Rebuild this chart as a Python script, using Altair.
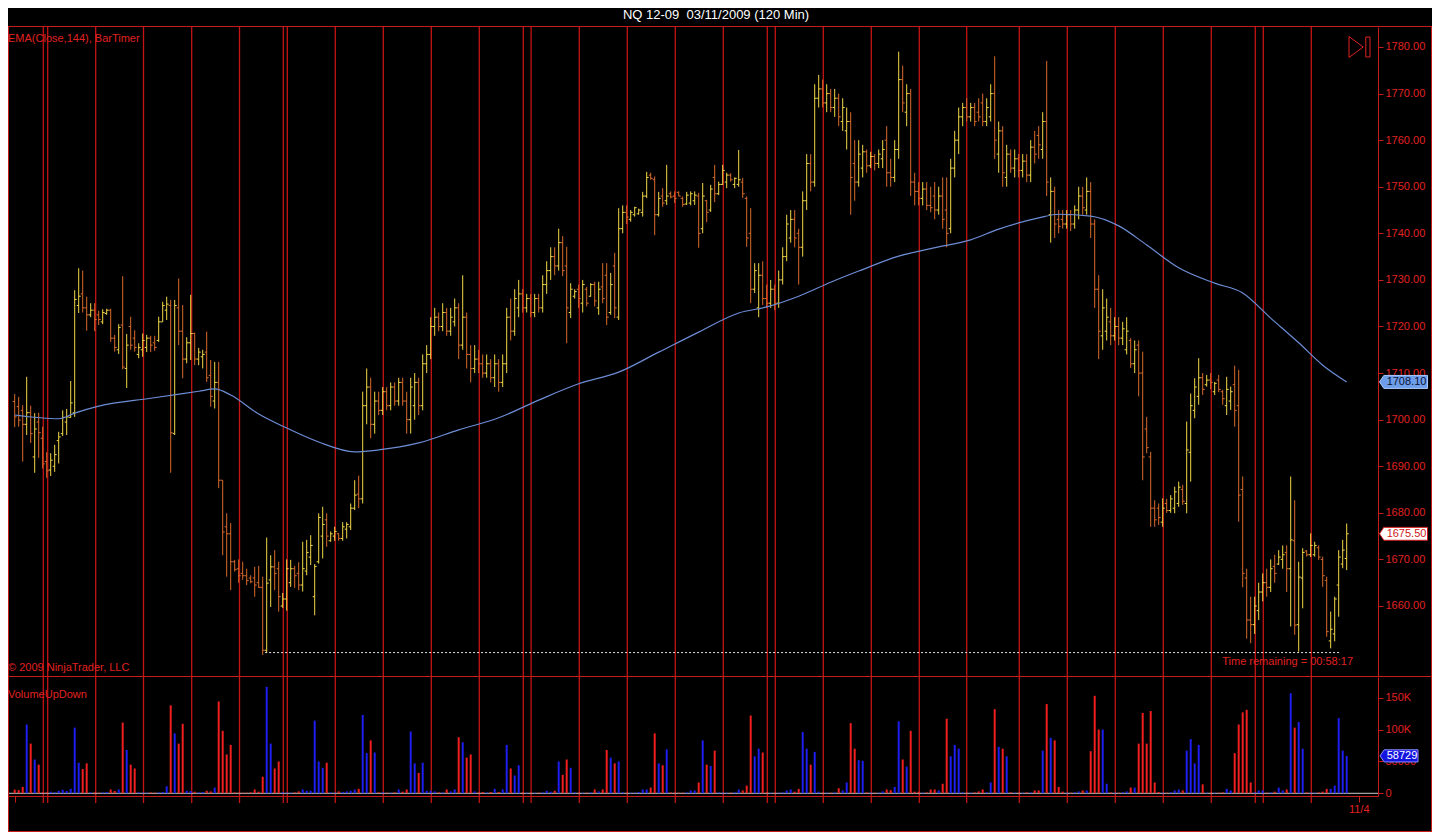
import altair as alt
import numpy as np
import pandas as pd

# ---------------- text ----------------
TITLE = "NQ 12-09\u00a0\u00a003/11/2009 (120 Min)"
INDICATOR_LABEL = "EMA(Close,144), BarTimer"
COPYRIGHT = "\u00a9 2009 NinjaTrader, LLC"
VOLUME_LABEL = "VolumeUpDown"
TIMER_TEXT = "Time remaining = 00:58:17"
DATE_LABEL = "11/4"

# ---------------- price bars (120 min), bar 0 .. 333 ----------------
OPEN = [
    1703.9, 1702.8, 1702.0, 1699.0, 1701.5, 1692.0, 1699.5, 1696.0, 1691.0, 1689.2,
    1690.0, 1695.5, 1697.0, 1699.5, 1700.5, 1701.5, 1724.5, 1727.0, 1724.0, 1722.5,
    1723.5, 1722.5, 1721.0, 1722.8, 1723.5, 1717.5, 1715.0, 1720.3, 1711.0, 1720.0,
    1717.5, 1714.0, 1715.0, 1715.5, 1717.5, 1716.5, 1717.0, 1721.0, 1723.5, 1724.5,
    1697.0, 1724.0, 1719.0, 1713.0, 1716.5, 1718.5, 1713.0, 1713.5, 1714.5, 1709.5,
    1704.0, 1708.0, 1687.0, 1677.0, 1675.5, 1669.5, 1668.0, 1667.0, 1666.5, 1666.0,
    1666.0, 1665.0, 1664.0, 1650.5, 1665.6, 1668.4, 1668.0, 1660.0, 1661.5, 1665.0,
    1668.0, 1667.0, 1664.5, 1667.5, 1670.5, 1662.0, 1669.5, 1675.0, 1678.5, 1674.0,
    1675.0, 1675.5, 1674.5, 1676.5, 1677.0, 1681.0,
    1684, 1683, 1703, 1707, 1699, 1704, 1702, 1706, 1703, 1707,
    1704, 1708, 1704, 1700, 1703, 1708, 1703, 1712, 1714, 1720,
    1722, 1720, 1723, 1719, 1721, 1724, 1716, 1722, 1714, 1711,
    1713, 1712, 1710, 1712, 1709, 1712, 1708, 1712, 1722, 1719,
    1724, 1727, 1724, 1726, 1723, 1726, 1724, 1729, 1732, 1735,
    1733, 1738, 1733, 1723, 1726.5, 1728, 1725, 1728, 1726.5, 1729,
    1724, 1728.5, 1731, 1723, 1733, 1722, 1741, 1744.5, 1743, 1744,
    1744.2, 1744.5, 1748, 1752.5, 1751.5, 1744, 1748, 1747, 1748.5, 1748,
    1748.8, 1747.5, 1746.3, 1746.5, 1747, 1748, 1741, 1747, 1745, 1752,
    1748.5, 1750.5, 1751, 1752.5, 1750.5, 1750.5, 1751, 1747.5, 1740, 1728,
    1724, 1731, 1726, 1725, 1728, 1725, 1730, 1735, 1739, 1743,
    1740, 1737, 1747, 1755, 1751, 1769, 1771, 1768, 1770, 1767,
    1769, 1764, 1762, 1764, 1755, 1751, 1754, 1757.5, 1754.5, 1756.5,
    1755, 1756, 1760, 1753, 1752, 1758, 1773, 1766, 1770, 1751,
    1749, 1747.5, 1749.5, 1746, 1748, 1745, 1748, 1745, 1741, 1754,
    1760, 1765, 1767, 1765, 1767, 1766, 1768, 1764, 1765, 1770,
    1757, 1762, 1752, 1757, 1754, 1756, 1753.5, 1755.5, 1752.5, 1758.5,
    1761, 1758, 1764, 1744, 1749, 1743, 1743, 1742, 1744, 1742,
    1745, 1748, 1745, 1749, 1742, 1728, 1718, 1719, 1721, 1718,
    1720, 1717.5, 1715, 1717, 1712, 1716, 1710, 1698, 1692, 1681,
    1681, 1678, 1682, 1680.5, 1681, 1682, 1685, 1682, 1693, 1702,
    1705, 1709, 1707.5, 1708.5, 1706, 1708.5, 1706, 1703, 1704, 1707.5,
    1703, 1685, 1666, 1657, 1656, 1659, 1663, 1665, 1664, 1668.5,
    1669, 1670, 1671.5, 1668, 1674, 1656, 1666, 1671.8, 1671, 1671,
    1672.5, 1670, 1665.5, 1652.5, 1654, 1664.5, 1669, 1670.2,
]
HIGH = [
    1705.5, 1704.9, 1703.1, 1709.2, 1703.0, 1701.4, 1701.5, 1698.5, 1693.0, 1692.8,
    1694.6, 1697.4, 1702.0, 1702.3, 1708.3, 1727.8, 1732.5, 1732.0, 1726.4, 1725.0,
    1725.0, 1723.4, 1723.7, 1723.8, 1723.8, 1718.2, 1720.5, 1730.8, 1718.4, 1722.1,
    1719.2, 1716.4, 1718.5, 1718.2, 1718.0, 1718.0, 1722.1, 1725.3, 1726.4, 1725.7,
    1725.7, 1730.3, 1724.6, 1717.7, 1726.8, 1718.7, 1715.4, 1715.0, 1718.9, 1712.8,
    1712.4, 1712.4, 1687.0, 1679.9, 1677.8, 1669.9, 1670.0, 1669.5, 1668.0, 1666.6,
    1668.4, 1668.6, 1666.3, 1674.7, 1670.9, 1672.0, 1669.5, 1662.8, 1670.0, 1669.9,
    1668.6, 1669.4, 1673.8, 1674.2, 1675.2, 1669.0, 1679.9, 1681.3, 1679.9, 1676.0,
    1677.0, 1675.6, 1678.0, 1678.0, 1682.0, 1687.0,
    1688, 1706, 1711, 1709, 1706, 1706, 1707, 1707, 1708, 1708,
    1709, 1709, 1706, 1709, 1710, 1709, 1714, 1716, 1722, 1724,
    1723, 1725, 1724, 1724, 1726, 1725, 1731, 1723, 1716, 1716,
    1715, 1714, 1714, 1713, 1714, 1713, 1714, 1724, 1726, 1728,
    1730, 1728, 1727, 1727, 1727, 1727, 1731, 1734, 1737, 1737,
    1741, 1739.4, 1737.1, 1729.3, 1728, 1729, 1730, 1728.5, 1729.3, 1729.6,
    1729.6, 1733.6, 1733.6, 1731.5, 1735.8, 1745.4, 1746, 1746, 1745, 1745.7,
    1745.3, 1748.9, 1753.2, 1753, 1752.2, 1748.9, 1749.7, 1754.7, 1749, 1749,
    1749, 1747.9, 1748.9, 1749, 1749, 1748.7, 1750.8, 1747.2, 1750.4, 1754.7,
    1751.1, 1754.7, 1753, 1752.9, 1752, 1757.9, 1751.9, 1747.9, 1745.4, 1733.6,
    1733.6, 1734, 1729, 1730, 1729, 1732, 1737, 1744, 1745, 1745,
    1741, 1749, 1757, 1757, 1772, 1774, 1773, 1772, 1771, 1771,
    1770, 1769, 1767, 1766, 1760, 1760, 1759, 1758, 1757.5, 1757,
    1758, 1760, 1763, 1756, 1760, 1779, 1776, 1772, 1771, 1753,
    1751, 1751, 1751, 1750, 1751, 1750, 1752, 1752, 1756, 1762,
    1767, 1768, 1769, 1768, 1768, 1769, 1770, 1769, 1772, 1778,
    1764, 1763, 1759, 1758, 1758, 1757, 1757, 1757, 1760, 1762,
    1763, 1766, 1777, 1752, 1750, 1745, 1745, 1745, 1745, 1746,
    1750, 1750, 1752, 1751, 1743, 1731, 1728, 1726, 1724, 1722,
    1722, 1721, 1722, 1717.5, 1717, 1717, 1714.6, 1700.6, 1693.1, 1682.7,
    1682, 1683.1, 1683, 1683.8, 1685.6, 1686.7, 1686, 1699.6, 1705.6, 1708.9,
    1713.2, 1710, 1709.6, 1710, 1708.1, 1709.6, 1706.4, 1709.2, 1707.1, 1711.6,
    1710.7, 1687.8, 1668, 1662, 1662, 1665, 1667, 1668, 1670, 1671,
    1672, 1673, 1673, 1687.8, 1682.7, 1669.5, 1672.4, 1672, 1675.6, 1673.8,
    1673, 1670.6, 1666.3, 1658.8, 1662, 1672, 1674.2, 1677.7,
]
LOW = [
    1698.4, 1698.5, 1691.0, 1696.7, 1695.0, 1688.6, 1691.8, 1689.5, 1687.5, 1687.9,
    1688.8, 1690.6, 1696.5, 1696.7, 1700.4, 1700.6, 1722.9, 1723.0, 1719.1, 1722.0,
    1719.0, 1720.3, 1720.5, 1722.5, 1716.7, 1714.6, 1714.1, 1710.8, 1706.8, 1715.0,
    1714.6, 1713.2, 1713.5, 1714.5, 1714.5, 1714.8, 1716.7, 1721.0, 1721.4, 1688.6,
    1696.7, 1716.0, 1708.9, 1712.1, 1712.8, 1711.7, 1711.7, 1711.0, 1708.1, 1702.8,
    1702.4, 1685.3, 1670.9, 1666.3, 1663.4, 1667.4, 1665.0, 1665.6, 1664.5, 1664.9,
    1662.0, 1663.9, 1649.5, 1650.0, 1659.8, 1663.4, 1658.8, 1659.6, 1659.0, 1664.1,
    1663.9, 1663.4, 1663.1, 1666.6, 1668.8, 1658.0, 1669.1, 1670.2, 1672.7, 1673.8,
    1674.0, 1674.0, 1674.0, 1674.5, 1676.3, 1680.6,
    1681, 1682, 1699, 1696, 1697, 1701, 1701, 1702, 1702, 1703,
    1703, 1703, 1697, 1697, 1700, 1701, 1702, 1710, 1713, 1718,
    1719, 1719, 1718, 1718, 1720, 1713, 1715, 1711, 1708, 1710,
    1710, 1709, 1709, 1708, 1707, 1706, 1707, 1710, 1717, 1718,
    1722, 1723, 1723, 1722, 1722, 1723, 1723, 1727, 1730, 1731,
    1732, 1730.8, 1716.4, 1721.8, 1726, 1724, 1723, 1724.3, 1726.4, 1724.3,
    1722.5, 1725, 1720.3, 1722.5, 1721.8, 1721.4, 1740, 1742, 1742.5, 1743.6,
    1744, 1743.6, 1747.6, 1751.5, 1739.6, 1743.6, 1745.7, 1746.1, 1747.5, 1746.5,
    1748, 1745.7, 1746.1, 1746, 1746.1, 1736.9, 1740, 1742.4, 1744.6, 1746.7,
    1748.2, 1750.4, 1749.7, 1751.1, 1749.7, 1750, 1747.6, 1737.1, 1725, 1727.2,
    1722, 1724.6, 1724, 1724, 1723.5, 1724, 1729, 1734, 1738, 1737,
    1729, 1735, 1745, 1749, 1750, 1767, 1767, 1766, 1766, 1765,
    1763, 1762, 1758, 1744, 1747, 1750, 1752, 1753, 1754, 1753.5,
    1754, 1754, 1750, 1750, 1751, 1756, 1766, 1763, 1748, 1746,
    1746, 1746, 1745, 1744.5, 1743, 1744, 1741, 1737, 1740, 1752,
    1757, 1763, 1764, 1764, 1763, 1764, 1763, 1763, 1764, 1756,
    1753, 1750, 1750, 1753, 1752, 1752, 1752, 1751, 1751, 1755,
    1756, 1756, 1748, 1738, 1739, 1740, 1741, 1741, 1740.5, 1741,
    1743, 1744, 1744, 1739, 1724, 1713, 1715, 1717, 1716, 1717,
    1716, 1716, 1714, 1711.1, 1710, 1705, 1687, 1692.8, 1677, 1677,
    1677.4, 1677, 1680, 1680, 1679.9, 1681.3, 1681.7, 1679.9, 1686.7, 1700.3,
    1703.2, 1705.3, 1707.1, 1706.5, 1705.3, 1705.9, 1703.2, 1701, 1702.1, 1698.5,
    1678.1, 1664, 1653, 1652, 1654, 1657, 1661, 1662, 1663, 1665,
    1668.8, 1668, 1663, 1655.6, 1653.8, 1650.2, 1659.5, 1670.6, 1670.5, 1670.6,
    1669.9, 1664.1, 1653.4, 1650.9, 1652.4, 1657.7, 1668.1, 1667.7,
]
CLOSE = [
    1700.6, 1699.9, 1699.0, 1701.5, 1697.0, 1698.0, 1697.2, 1690.5, 1689.0, 1691.3,
    1692.5, 1696.3, 1700.5, 1700.6, 1703.6, 1725.8, 1726.5, 1724.0, 1722.5, 1723.5,
    1721.5, 1721.5, 1723.0, 1723.5, 1717.5, 1715.5, 1719.8, 1711.3, 1716.0, 1716.0,
    1715.5, 1715.5, 1717.0, 1717.5, 1716.0, 1715.5, 1721.0, 1724.5, 1724.8, 1697.2,
    1724.5, 1719.0, 1713.0, 1716.5, 1718.5, 1713.0, 1714.5, 1714.0, 1709.0, 1705.0,
    1708.0, 1687.0, 1675.9, 1675.5, 1669.5, 1667.8, 1666.5, 1666.5, 1665.5, 1665.2,
    1664.5, 1664.0, 1650.5, 1664.9, 1668.4, 1667.0, 1662.0, 1661.5, 1668.0, 1668.0,
    1666.5, 1664.5, 1668.0, 1671.5, 1673.0, 1668.5, 1679.0, 1677.5, 1675.0, 1675.5,
    1676.0, 1674.5, 1677.0, 1677.5, 1681.0, 1683.8,
    1683, 1703, 1707, 1699, 1704, 1702, 1706, 1703, 1707, 1704,
    1708, 1704, 1700, 1707, 1708, 1703, 1712, 1714, 1720, 1722,
    1720, 1723, 1719, 1722, 1724, 1716, 1722, 1714, 1711, 1713,
    1712, 1710, 1712, 1709, 1712, 1708, 1712, 1722, 1719, 1726,
    1727, 1724, 1726, 1723, 1726, 1724, 1729, 1732, 1735, 1733,
    1738, 1732, 1724, 1728, 1727.5, 1726, 1729, 1725, 1729, 1725.5,
    1728, 1726, 1722, 1729, 1724, 1741, 1744.5, 1743.5, 1744.5, 1745.5,
    1745, 1748, 1752, 1751.8, 1744, 1747.5, 1746.5, 1748, 1747.8, 1747.5,
    1748, 1746.2, 1748.2, 1748.5, 1748.2, 1740, 1748, 1744.5, 1749.5, 1748.5,
    1750.5, 1753.5, 1752.5, 1751.5, 1751.8, 1751.5, 1748.5, 1739, 1728, 1732,
    1731, 1726, 1725, 1728, 1725, 1730, 1735, 1742, 1743, 1739,
    1737, 1747, 1755, 1751, 1769, 1771, 1768, 1770, 1767, 1769,
    1765, 1767, 1764, 1752, 1751, 1757, 1757.5, 1754.5, 1756.5, 1755,
    1757, 1758, 1753, 1752, 1758, 1773, 1768, 1770, 1751, 1749,
    1747.5, 1749.5, 1746, 1745.5, 1745, 1748, 1743, 1740, 1754, 1760,
    1765, 1767, 1765, 1767, 1764, 1765, 1764, 1767, 1770, 1760,
    1762, 1753, 1757, 1754, 1756, 1753.5, 1755.5, 1752.5, 1758.5, 1757,
    1759, 1764, 1751, 1749, 1742, 1741.5, 1742, 1744, 1742, 1745,
    1748, 1745.5, 1749, 1742, 1728, 1719, 1724, 1722, 1718, 1720,
    1717.5, 1719.5, 1719, 1712, 1715, 1710, 1692, 1694, 1681, 1678.5,
    1679, 1681, 1680.5, 1683, 1684.5, 1685.5, 1682.5, 1693.5, 1703, 1707,
    1709, 1706.5, 1708.5, 1708, 1707.8, 1706.5, 1704.5, 1706.5, 1706, 1702,
    1683.8, 1667, 1657, 1656, 1660, 1663, 1665, 1664, 1668, 1667,
    1670.5, 1671, 1668, 1674.2, 1655.9, 1666.2, 1671.5, 1671, 1673, 1673,
    1670.5, 1666.5, 1654.5, 1655, 1661.5, 1670.5, 1672, 1675.5,
]

# volume per bar, thousands of contracts
VOLUME_K = [
    5.8, 5, 10, 108, 78, 53, 45, 1.5, 1.5, 2.6, 1.5, 4,
    5.5, 3.5, 7, 103, 48, 38, 47, 1.5, 1.5, 1, 1.5, 2,
    6, 3.6, 6, 111, 68, 45, 39, 1.5, 1, 1, 1.5, 1,
    1.5, 2, 11, 138, 94, 78, 109, 4, 3.6, 2.6, 1.5, 2,
    4, 3, 9, 144, 98, 61, 76, 1.5, 1, 1, 1, 1.5,
    6, 2.6, 26, 167, 78, 39, 50, 1.5, 1, 1, 1.5, 3,
    6, 4, 4, 114, 50, 40, 48, 1.5, 1, 3, 2, 3,
    4, 6, 7, 123, 63, 83, 64, 1.5, 1.5, 1, 1, 1.5,
    6, 2.6, 6, 97, 47, 32, 48, 4, 4, 3, 1.5, 1.5,
    6, 3, 6, 88, 80, 56, 61, 3, 1.5, 2, 1.5, 2,
    7, 2, 6, 76, 39, 28, 44, 1.5, 1, 1, 1, 1,
    1.5, 4, 2.5, 4, 50, 29, 53, 40, 1.5, 1, 1, 1,
    1.5, 6, 3, 6, 68, 56, 47, 50, 1.5, 1, 1, 1,
    2, 6, 6, 9, 94, 47, 44, 69, 1.5, 1, 1, 1,
    1.5, 4.5, 4.5, 17, 83, 45, 43, 67, 1.5, 1, 1, 1,
    1.5, 6, 4.5, 12, 122, 58, 70, 64, 1.5, 1, 1, 1,
    1.5, 4.5, 6, 2.6, 7, 96, 70, 45, 65, 2.6, 1, 1,
    1, 1.5, 8, 4.5, 17, 110, 70, 52, 51, 1.5, 1, 1,
    1, 3, 6, 5, 10, 113, 53, 42, 98, 2.6, 2.6, 1,
    1.5, 6, 6, 4.5, 15, 117, 58, 76, 70, 1.5, 1, 1,
    1.5, 3, 6, 1.5, 17, 132, 73, 70, 58, 1.5, 1, 1,
    1, 1.5, 1.5, 4.5, 4.5, 67, 140, 87, 83, 10, 2.6, 1,
    1, 1.5, 3, 4.5, 4.5, 66, 153, 100, 100, 15, 1.5, 1,
    1, 1.5, 3, 9, 9, 78, 126, 78, 129, 17, 2, 1,
    1, 1.5, 4.5, 6, 4.5, 67, 85, 47, 76, 14, 1, 1,
    1, 1, 1.5, 7, 4.5, 63, 108, 127, 131, 17, 1.5, 4.5,
    4.5, 1, 1.5, 2.6, 9, 4.5, 6, 157, 103, 112, 70, 1.5,
    1, 1, 1.5, 2.6, 7, 7, 12, 118, 67, 58.729,
]

# EMA(Close,144) read at selected bars
EMA_BAR = [0, 11, 15, 21, 34, 46, 50, 54, 61, 68, 76, 85, 91, 101, 111, 121, 131, 141, 151, 161,
           171, 181, 188, 196, 204, 211, 221, 231, 239, 246, 256, 261, 269, 276, 283, 291, 300,
           307, 314, 321, 327, 333]
EMA_VAL = [1701.0, 1700.2, 1701.4, 1702.9, 1704.6, 1706.1, 1706.6, 1705.3, 1701.2, 1698.2,
           1695.2, 1693.1, 1693.5, 1695.0, 1697.8, 1700.4, 1704.2, 1707.7, 1710.2, 1714.5,
           1718.8, 1722.9, 1724.2, 1726.5, 1729.5, 1731.9, 1735.1, 1737.1, 1738.6, 1740.9,
           1743.3, 1744.1, 1743.7, 1741.6, 1737.5, 1732.6, 1729.3, 1727.2, 1721.8, 1716.5,
           1711.7, 1708.1]

# vertical session / day lines (bar positions)
SESSION_LINES = [7.15, 8.25, 20.25, 32.2, 44.25, 56.2, 67.15, 68.15, 80.15, 92.15, 104.15,
                 116.15, 127.15, 129.1, 141.15, 153.15, 165.15, 177.15, 188.15, 190.15,
                 202.15, 214.15, 226.15, 238.0, 251.15, 263.15, 275.15, 287.15, 299.15,
                 310.15, 312.15, 324.15]

PRICE_TICKS = [1660, 1670, 1680, 1690, 1700, 1710, 1720, 1730, 1740, 1750, 1760, 1770, 1780]
VOLUME_TICKS = [0, 50000, 100000, 150000]
LOW_LINE = [62.6, 331.3, 1650.0]      # from bar, to bar, price
DATE_TICKS = [0, 336]

# ---------------- style ----------------
UP_BAR = "#F0D848"
DN_BAR = "#DA6A2C"
UP_VOL = "#1E1EF0"
DN_VOL = "#F01E1E"
FRAME = "#C81C1C"
SESSION = "#C41414"
TXT = "#E02222"
EMA_C = "#6C8CD4"
FONT = "Liberation Sans"

W, H = 1370, 788

n = len(OPEN)
bars = pd.DataFrame({"i": np.arange(n), "o": OPEN, "h": HIGH, "l": LOW, "c": CLOSE})
bars["xo"] = bars["i"] - 0.5
bars["xc"] = bars["i"] + 0.5
bars["col"] = np.where(bars["c"] >= bars["o"], UP_BAR, DN_BAR)

nv = len(VOLUME_K)
upv = [(CLOSE[k] >= OPEN[k]) if k < n else True for k in range(nv)]
vol = pd.DataFrame({"i": np.arange(nv), "v": np.array(VOLUME_K) * 1000.0, "z": 0.0})
vol["col"] = np.where(upv, UP_VOL, DN_VOL)

XS = alt.Scale(domain=[-1.675, 340.825], nice=False, zero=False)
X_AX = alt.Axis(orient="bottom", values=DATE_TICKS,
                labelExpr="datum.value > 300 ? '" + DATE_LABEL + "' : ''",
                domainColor=FRAME, tickColor=FRAME, tickSize=6, labelColor=TXT,
                labelFont=FONT, labelFontSize=11, labelPadding=1, grid=False,
                title=None, labelFlush=False)

PS = alt.Scale(domain=[1644.758, 1784.293], range=[669, 19], nice=False, zero=False)
P_AX = alt.Axis(orient="right", values=PRICE_TICKS, format=".2f", domainColor=FRAME,
                tickColor=FRAME, tickSize=5, labelColor=TXT, labelFont=FONT,
                labelFontSize=11, labelPadding=2, grid=False, title=None,
                labelFlush=False, labelOverlap=False)

VS = alt.Scale(domain=[-4236, 182480], range=[788, 669], nice=False, zero=False)
V_AX = alt.Axis(orient="right", values=VOLUME_TICKS,
                labelExpr="datum.value == 0 ? '0' : (datum.value == 50000 ? '50000' : (datum.value / 1000) + 'K')",
                domainColor=FRAME, tickColor=FRAME, tickSize=5, labelColor=TXT,
                labelFont=FONT, labelFontSize=11, labelPadding=2, grid=False,
                title=None, labelFlush=False, labelOverlap=False)


def X(f):
    return alt.X(f, type="quantitative", scale=XS, axis=X_AX)


def PY(f):
    return alt.Y(f, type="quantitative", scale=PS, axis=P_AX)


def VY(f):
    return alt.Y(f, type="quantitative", scale=VS, axis=V_AX)


COLOR = alt.Color("col:N", scale=None)

session = alt.Chart(pd.DataFrame({"s": SESSION_LINES})).mark_rule(
    color=SESSION, strokeWidth=1.3).encode(x=X("s"), y=alt.value(19), y2=alt.value(795))

ohlc = alt.Chart(bars).mark_rule(strokeWidth=1).encode(
    x=X("i"), y=PY("l"), y2="h", color=COLOR)
opn = alt.Chart(bars).mark_rule(strokeWidth=1).encode(
    x=X("xo"), x2="i", y=PY("o"), color=COLOR)
cls = alt.Chart(bars).mark_rule(strokeWidth=1).encode(
    x=X("i"), x2="xc", y=PY("c"), color=COLOR)
ema = alt.Chart(pd.DataFrame({"i": EMA_BAR, "e": EMA_VAL})).mark_line(
    color=EMA_C, strokeWidth=1.2, interpolate="monotone").encode(x=X("i"), y=PY("e"))
lowline = alt.Chart(pd.DataFrame({"a": [LOW_LINE[0]], "b": [LOW_LINE[1]], "p": [LOW_LINE[2]]})).mark_rule(
    color="#E6E6E6", strokeDash=[2, 2], strokeWidth=1).encode(x=X("a"), x2="b", y=PY("p"))

BOX = "M-1,0 L-0.82,-0.27 L1,-0.27 L1,0.27 L-0.82,0.27 Z"

ema_last = pd.DataFrame({"p": [EMA_VAL[-1]]})
ema_box = alt.Chart(ema_last).mark_point(
    shape=BOX, size=2304, filled=True, fill="#6E9EEA", stroke="#A8C8FA",
    strokeWidth=1, opacity=1).encode(x=alt.value(1395.5), y=PY("p"))
ema_txt = alt.Chart(ema_last).mark_text(
    align="center", baseline="middle", font=FONT, fontSize=11, color="#0A1030").encode(
    x=alt.value(1398.5), y=PY("p"), text=alt.Text("p:Q", format=".2f"))

last_df = pd.DataFrame({"p": [CLOSE[-1]]})
last_box = alt.Chart(last_df).mark_point(
    shape=BOX, size=2304, filled=True, fill="#FFFFFF", stroke="#D01818",
    strokeWidth=1, opacity=1).encode(x=alt.value(1395.5), y=PY("p"))
last_txt = alt.Chart(last_df).mark_text(
    align="center", baseline="middle", font=FONT, fontSize=11, color="#D01818").encode(
    x=alt.value(1398.5), y=PY("p"), text=alt.Text("p:Q", format=".2f"))

price_group = alt.layer(ohlc, opn, cls, ema, lowline, ema_box, ema_txt, last_box, last_txt)

zero = alt.Chart(pd.DataFrame({"z": [0.0]})).mark_rule(color="#C8C8C8", strokeWidth=1).encode(
    x=alt.value(0), x2=alt.value(W), y=VY("z"))
vbars = alt.Chart(vol).mark_rule(strokeWidth=2).encode(
    x=X("i"), y=VY("v"), y2="z", color=COLOR)
vlast = pd.DataFrame({"v": [VOLUME_K[-1] * 1000.0]})
VBOX = "M-1,0 L-0.78,-0.32 L1,-0.32 L1,0.32 L-0.78,0.32 Z"
vol_box = alt.Chart(vlast).mark_point(
    shape=VBOX, size=1444, filled=True, fill="#1414E0", stroke="#8C8CFF",
    strokeWidth=1, opacity=1).encode(x=alt.value(1391), y=VY("v"))
vol_txt = alt.Chart(vlast).mark_text(
    align="center", baseline="middle", font=FONT, fontSize=11, color="#FFFFFF").encode(
    x=alt.value(1394), y=VY("v"), text=alt.Text("v:Q", format="d"))
vol_group = alt.layer(zero, vbars, vol_box, vol_txt)

one = pd.DataFrame({"k": [0]})


def hline(y, x1, x2, color=FRAME):
    return alt.Chart(one).mark_rule(color=color, strokeWidth=1).encode(
        x=alt.value(x1), x2=alt.value(x2), y=alt.value(y))


def vline(x, y1, y2, color=FRAME):
    return alt.Chart(one).mark_rule(color=color, strokeWidth=1).encode(
        x=alt.value(x), y=alt.value(y1), y2=alt.value(y2))


frame = alt.layer(
    hline(18.5, 0, 1424), hline(668.5, 0, 1424), hline(823.5, 0, 1424),
    vline(0.5, 18.5, 824), vline(1423.5, 18.5, 824),
)


def label(text, x, y, align="left", color=TXT, size=11, baseline="middle"):
    return alt.Chart(pd.DataFrame({"t": [text]})).mark_text(
        align=align, baseline=baseline, font=FONT, fontSize=size, color=color).encode(
        x=alt.value(x), y=alt.value(y), text="t:N")


icon = alt.Chart(one).mark_point(
    shape="M-1,-1 L0.35,0 L-1,1 Z M0.6,-0.95 L1,-0.95 L1,0.95 L0.6,0.95 Z",
    size=441, filled=False, stroke=TXT, strokeWidth=1, opacity=1).encode(
    x=alt.value(1351.5), y=alt.value(39))

texts = alt.layer(
    label(TITLE, 708, 1, align="center", color="#FFFFFF", size=13, baseline="top"),
    label(INDICATOR_LABEL, 0, 31),
    label(COPYRIGHT, 0, 660),
    label(VOLUME_LABEL, 0, 687),
    label(TIMER_TEXT, 1345, 654, align="right"),
    icon,
)

chart = alt.layer(session, price_group, vol_group, frame, texts).resolve_scale(
    y="independent"
).properties(
    width=W, height=H,
    padding={"left": 0, "top": 0, "right": 54, "bottom": 36},
    autosize=alt.AutoSizeParams(type="none"),
    background="#000000",
).configure_view(stroke=None)

chart.save("out.html", embed_options={"renderer": "svg", "actions": False})
